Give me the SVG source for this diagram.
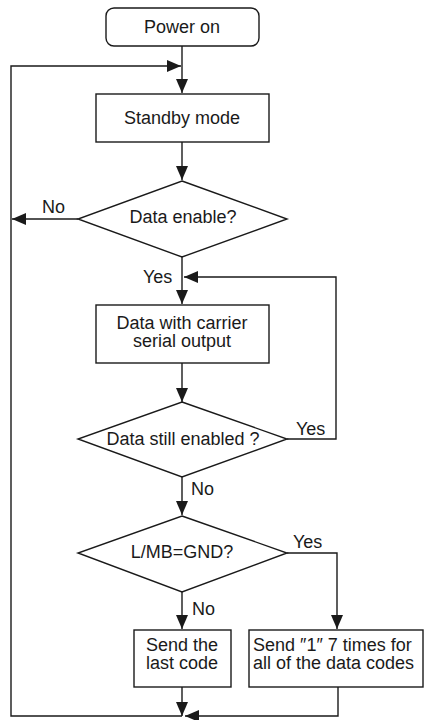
<svg xmlns="http://www.w3.org/2000/svg" width="424" height="720" viewBox="0 0 424 720">
<defs>
<marker id="ah" markerUnits="userSpaceOnUse" markerWidth="14" markerHeight="12" viewBox="0 0 14 12" refX="14" refY="6" orient="auto">
<path d="M0,0 L14,6 L0,12 z" fill="#1a1a1a"/>
</marker>
</defs>
<style>
.box{fill:#fff;stroke:#1a1a1a;stroke-width:1.4}
.ln{fill:none;stroke:#1a1a1a;stroke-width:1.4}
.ar{fill:none;stroke:#1a1a1a;stroke-width:1.4;marker-end:url(#ah)}
text{font-family:"Liberation Sans",Arial,sans-serif;font-size:18px;fill:#1a1a1a}
.c{text-anchor:middle}
</style>
<rect width="424" height="720" fill="#fff"/>
<g id="connectors">
<path class="ar" d="M182,46 L182,93"/>
<path class="ar" d="M182,716 L11,716 L11,66 L181,66"/>
<path class="ar" d="M182,142 L182,180"/>
<path class="ar" d="M78,219 L12,219"/>
<path class="ar" d="M182,257 L182,304"/>
<path class="ar" d="M287,439 L336,439 L336,277 L184,277"/>
<path class="ar" d="M182,363 L182,402"/>
<path class="ar" d="M182,477 L182,515"/>
<path class="ar" d="M182,592 L182,629"/>
<path class="ar" d="M287,553 L337,553 L337,629"/>
<path class="ar" d="M182,687 L182,716"/>
<path class="ar" d="M338,687 L338,716 L185,716"/>
<text x="42" y="213">No</text>
<text x="143" y="283">Yes</text>
<text x="296" y="435">Yes</text>
<text x="191" y="495">No</text>
<text x="293" y="548">Yes</text>
<text x="192" y="615">No</text>
</g>
<g id="power-on">
<rect class="box" x="106" y="8" width="153" height="38" rx="8"/>
<text class="c" x="182" y="33">Power on</text>
</g>
<g id="standby">
<rect class="box" x="96" y="94" width="173" height="48"/>
<text class="c" x="182" y="124">Standby mode</text>
</g>
<g id="data-enable">
<polygon class="box" points="182,181 287,219 182,257 78,219"/>
<text class="c" x="183" y="223">Data enable?</text>
</g>
<g id="data-output">
<rect class="box" x="96" y="305" width="173" height="58"/>
<text class="c" x="182" y="329">Data with carrier</text>
<text class="c" x="182" y="347">serial output</text>
</g>
<g id="still-enabled">
<polygon class="box" points="182,402 287,439 182,477 78,439"/>
<text class="c" x="183" y="445">Data still enabled ?</text>
</g>
<g id="lmb-gnd">
<polygon class="box" points="182,516 287,553 182,592 78,553"/>
<text class="c" x="182" y="558">L/MB=GND?</text>
</g>
<g id="send-last">
<rect class="box" x="134" y="630" width="97" height="57"/>
<text class="c" x="182" y="651">Send the</text>
<text class="c" x="182" y="669">last code</text>
</g>
<g id="send-one">
<rect class="box" x="249" y="630" width="174" height="57"/>
<text x="253" y="651">Send ″1″ 7 times for</text>
<text x="253" y="669">all of the data codes</text>
</g>
</svg>
